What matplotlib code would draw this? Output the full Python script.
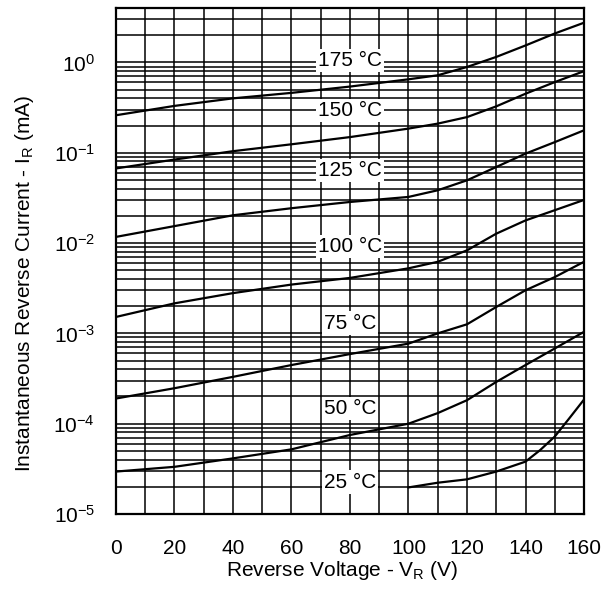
import numpy as np
import matplotlib
matplotlib.use("Agg")
import matplotlib.pyplot as plt
from matplotlib.ticker import LogLocator, MultipleLocator, NullFormatter

plt.rcParams['font.family'] = ['Liberation Sans', 'DejaVu Sans']
plt.rcParams['mathtext.fontset'] = 'custom'
plt.rcParams['mathtext.rm'] = 'Liberation Sans'
plt.rcParams['mathtext.it'] = 'Liberation Sans:italic'

# reverse voltage (V)
volts = [0, 20, 40, 60, 80, 100, 110, 120, 130, 140, 150, 160]

# instantaneous reverse current (mA), per junction temperature
i_175 = [0.26, 0.33, 0.40, 0.46, 0.54, 0.65, 0.72, 0.89, 1.15, 1.54, 2.09, 2.75]
i_150 = [0.067, 0.084, 0.104, 0.124, 0.149, 0.185, 0.21, 0.248, 0.326, 0.45, 0.605, 0.80]
i_125 = [0.0117, 0.0154, 0.0203, 0.0243, 0.0285, 0.0324, 0.0384, 0.0495, 0.0695, 0.0977, 0.131, 0.177]
i_100 = [0.00152, 0.00215, 0.00279, 0.00347, 0.00411, 0.00525, 0.0062, 0.0083, 0.0127, 0.0178, 0.0231, 0.0300]
i_75 = [1.9e-4, 2.47e-4, 3.3e-4, 4.46e-4, 5.9e-4, 7.7e-4, 1.0e-3, 1.26e-3, 1.96e-3, 3.0e-3, 4.2e-3, 6.2e-3]
i_50 = [2.95e-5, 3.33e-5, 4.13e-5, 5.2e-5, 7.5e-5, 1.0e-4, 1.31e-4, 1.82e-4, 2.9e-4, 4.46e-4, 6.8e-4, 1.04e-3]

volts_25 = [100, 110, 120, 130, 140, 145, 150, 155, 160]
i_25 = [1.97e-5, 2.22e-5, 2.42e-5, 2.95e-5, 3.8e-5, 5.1e-5, 7.2e-5, 1.15e-4, 1.85e-4]

temp_labels = ["175 °C", "150 °C", "125 °C", "100 °C", "75 °C", "50 °C", "25 °C"]
label_y = [1.05, 0.295, 0.064, 0.0092, 1.3e-3, 1.48e-4, 2.26e-5]

fig = plt.figure(figsize=(6.15, 5.90), dpi=100)
ax = fig.add_axes([0.1886, 0.1288, 0.761, 0.8576])

curves = [i_175, i_150, i_125, i_100, i_75, i_50]
for c in curves:
    ax.plot(volts, c, color='black', lw=1.6, zorder=3)
ax.plot(volts_25, i_25, color='black', lw=1.6, zorder=3)

ax.set_yscale('log')
ax.set_xlim(0, 160)
ax.set_ylim(1e-5, 4)

ax.xaxis.set_major_locator(MultipleLocator(20))
ax.xaxis.set_minor_locator(MultipleLocator(10))
ax.yaxis.set_minor_locator(LogLocator(base=10, subs=np.arange(2, 10), numticks=20))
ax.yaxis.set_minor_formatter(NullFormatter())
ax.set_yticks([1e-5, 1e-4, 1e-3, 1e-2, 1e-1, 1e0])
ax.set_yticklabels([r'$\mathregular{10^{-5}}$', r'$\mathregular{10^{-4}}$', r'$\mathregular{10^{-3}}$',
                    r'$\mathregular{10^{-2}}$', r'$\mathregular{10^{-1}}$', r'$\mathregular{10^{0}}$'])

ax.grid(True, which='both', color='black', lw=1.1, zorder=1)
ax.tick_params(which='both', length=0, labelsize=15)
ax.tick_params(axis='x', pad=18)
ax.tick_params(axis='y', pad=15)
for s in ax.spines.values():
    s.set_linewidth(1.6)

for t, y in zip(temp_labels, label_y):
    ax.text(80, y, t, fontsize=15, ha='center', va='center', zorder=4,
            bbox=dict(boxstyle='square,pad=0.1', fc='white', ec='none'))

ax.set_xlabel(r'Reverse Voltage - V$_\mathregular{R}$ (V)', fontsize=15)
ax.set_ylabel(r'Instantaneous Reverse Current - I$_\mathregular{R}$ (mA)', fontsize=15)
ax.xaxis.set_label_coords(0.483, -0.089)
ax.yaxis.set_label_coords(-0.171, 0.4565)

fig.savefig('out.png', dpi=100)
